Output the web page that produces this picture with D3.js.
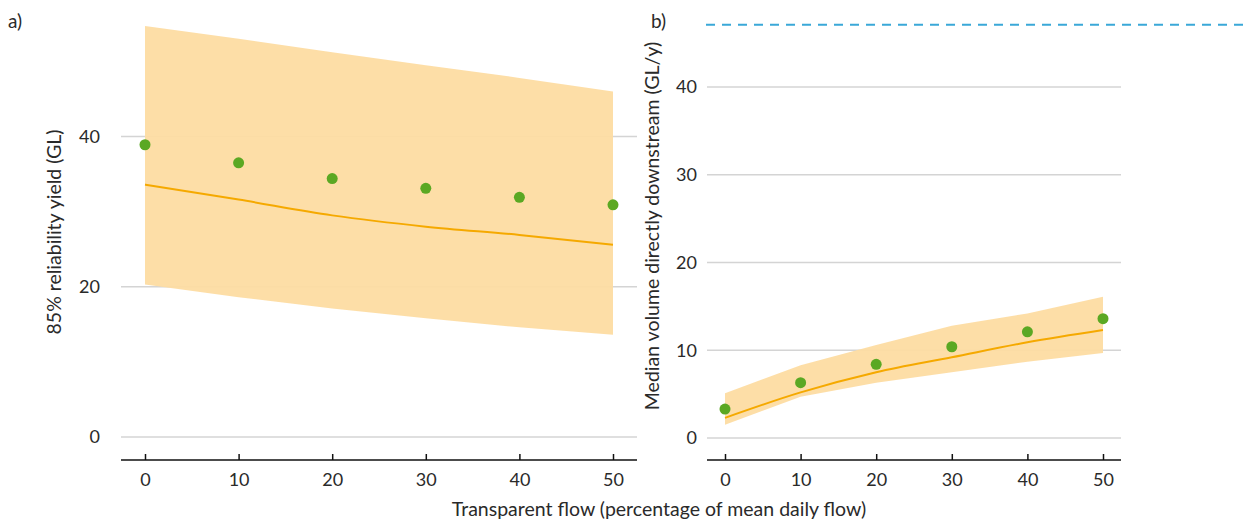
<!DOCTYPE html>
<html>
<head>
<meta charset="utf-8">
<script src="https://cdn.jsdelivr.net/npm/d3@7"></script>
<style>
  body { margin: 0; background: #fff; }
  text { font-family: Lato, "Open Sans", sans-serif; fill: #2a2a2a; }
</style>
</head>
<body>
<svg id="chart" width="1248" height="526"></svg>
<script>
// transparent flow (% of mean daily flow)
let flows = [0, 10, 20, 30, 40, 50];

// panel a: 85% reliability yield (GL)
let yieldObserved = [38.9, 36.5, 34.4, 33.1, 31.9, 30.9];
let yieldFit = [33.6, 31.6, 29.5, 28.0, 26.9, 25.6];
let yieldUpper = [54.7, 53.0, 51.2, 49.5, 47.8, 46.0];
let yieldLower = [20.3, 18.6, 17.1, 15.8, 14.6, 13.6];
let yieldTicks = [0, 20, 40];

// panel b: median volume directly downstream (GL/y)
let volObserved = [3.3, 6.3, 8.4, 10.4, 12.1, 13.6];
let volFit = [2.3, 5.2, 7.5, 9.2, 10.9, 12.3];
let volUpper = [5.1, 8.3, 10.6, 12.8, 14.2, 16.1];
let volLower = [1.5, 4.7, 6.3, 7.5, 8.7, 9.7];
let volTicks = [0, 10, 20, 30, 40];
let volReference = 47.1;

let xTicks = [0, 10, 20, 30, 40, 50];

let svg = d3.select("#chart");

function panel(opts) {
    let g = svg.append("g");
    let x = d3.scaleLinear().domain([0, 50]).range(opts.xRange);
    let y = d3.scaleLinear().domain([0, 40]).range(opts.yRange);

    // gridlines
    g.selectAll(".grid")
        .data(opts.yTicks)
        .join("line")
        .attr("x1", opts.gridX[0])
        .attr("x2", opts.gridX[1])
        .attr("y1", d => y(d))
        .attr("y2", d => y(d))
        .style("stroke", "#d4d4d4")
        .style("stroke-width", 1.5);

    // y tick labels
    let yAxis = g.append("g")
        .attr("transform", `translate(${opts.yLabelX}, 0)`)
        .call(d3.axisLeft(y).tickValues(opts.yTicks).tickSize(0).tickPadding(0).tickFormat(d3.format("d")));
    yAxis.select(".domain").remove();
    yAxis.selectAll("text").style("font-size", "18px").style("fill", "#2a2a2a");

    let rows = flows.map((f, i) => ({ f: f, lo: opts.lower[i], hi: opts.upper[i], fit: opts.fit[i], obs: opts.obs[i] }));

    // uncertainty band
    let area = d3.area()
        .x(d => x(d.f))
        .y0(d => y(d.lo))
        .y1(d => y(d.hi));
    g.append("path")
        .datum(rows)
        .attr("d", area)
        .style("fill", "#fddca2")
        .style("opacity", 0.95);

    // fitted line
    let line = d3.line()
        .x(d => x(d.f))
        .y(d => y(d.fit))
        .curve(d3.curveMonotoneX);
    g.append("path")
        .datum(rows)
        .attr("d", line)
        .style("fill", "none")
        .style("stroke", "#f5a900")
        .style("stroke-width", 2);

    // observed points
    g.selectAll(".pt")
        .data(rows)
        .join("circle")
        .attr("cx", d => x(d.f))
        .attr("cy", d => y(d.obs))
        .attr("r", 5.5)
        .style("fill", "#5ba823");

    // x axis
    let xAxis = g.append("g")
        .attr("transform", `translate(0, ${opts.axisY})`)
        .call(d3.axisBottom(x).tickValues(xTicks).tickSizeInner(-6).tickSizeOuter(0).tickPadding(13));
    xAxis.select(".domain").remove();
    xAxis.selectAll("line").style("stroke", "#111").style("stroke-width", 1.5);
    xAxis.selectAll("text").style("font-size", "18px").style("fill", "#2a2a2a");
    g.append("line")
        .attr("x1", opts.gridX[0])
        .attr("x2", opts.gridX[1])
        .attr("y1", opts.axisY)
        .attr("y2", opts.axisY)
        .style("stroke", "#111")
        .style("stroke-width", 1.5);

    // y axis title
    g.append("text")
        .attr("transform", `translate(${opts.titleX}, ${opts.titleY}) rotate(-90)`)
        .attr("text-anchor", "middle")
        .style("font-size", "19.5px")
        .text(opts.title);

    // panel letter
    g.append("text")
        .attr("x", opts.letterX)
        .attr("y", 28)
        .style("font-size", "19px")
        .text(opts.letter);

    return { g: g, x: x, y: y };
}

panel({
    xRange: [145, 613], yRange: [437, 136.5], gridX: [121, 637], axisY: 460,
    yTicks: yieldTicks, yLabelX: 100,
    obs: yieldObserved, fit: yieldFit, upper: yieldUpper, lower: yieldLower,
    title: "85% reliability yield (GL)", titleX: 61, titleY: 232,
    letter: "a)", letterX: 8
});

let b = panel({
    xRange: [725, 1103], yRange: [438, 87], gridX: [707, 1121], axisY: 460,
    yTicks: volTicks, yLabelX: 697,
    obs: volObserved, fit: volFit, upper: volUpper, lower: volLower,
    title: "Median volume directly downstream (GL/y)", titleX: 659, titleY: 226,
    letter: "b)", letterX: 651
});

// reference level in panel b
b.g.append("line")
    .attr("x1", 706)
    .attr("x2", 1248)
    .attr("y1", b.y(volReference))
    .attr("y2", b.y(volReference))
    .style("stroke", "#3aa8d8")
    .style("stroke-width", 2)
    .style("stroke-dasharray", "9,7");

// shared x axis title
svg.append("text")
    .attr("x", 659)
    .attr("y", 516)
    .attr("text-anchor", "middle")
    .style("font-size", "19.5px")
    .text("Transparent flow (percentage of mean daily flow)");
</script>
</body>
</html>
